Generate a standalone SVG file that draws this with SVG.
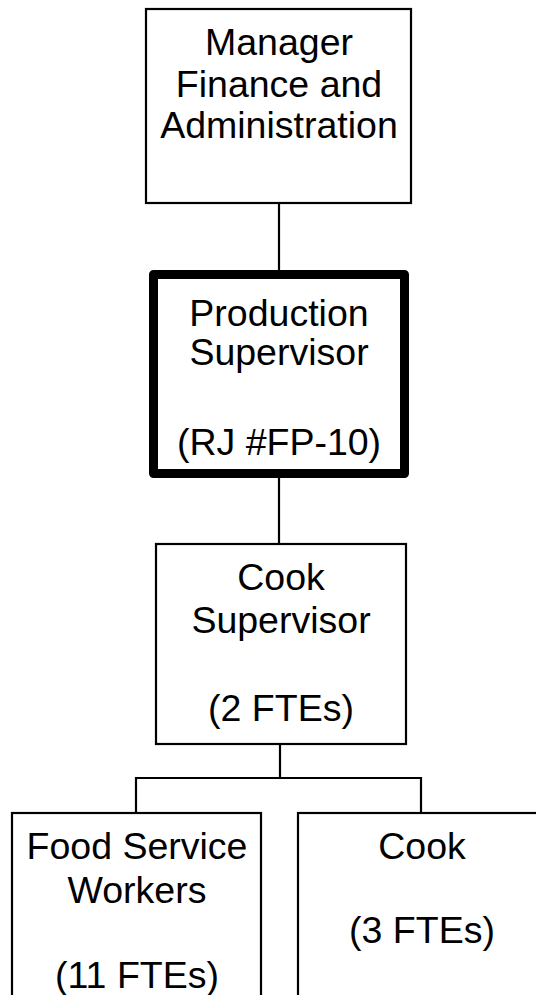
<svg xmlns="http://www.w3.org/2000/svg" width="536" height="995" viewBox="0 0 536 995">
<style>
.box{fill:#fff;stroke:#000;stroke-width:2.2}
.thick{fill:#fff;stroke:#000;stroke-width:9;stroke-linejoin:round}
.lbl{font-family:"Liberation Sans",Arial,sans-serif;font-size:37.5px;fill:#000;text-anchor:middle}
.conn{fill:none;stroke:#000;stroke-width:2.2}
</style>
<rect width="536" height="995" fill="#fff"/>
<g id="connectors">
<line class="conn" x1="279" y1="203" x2="279" y2="270"/>
<line class="conn" x1="279" y1="478" x2="279" y2="544"/>
<polyline class="conn" points="136,813 136,778 421,778 421,813"/>
<line class="conn" x1="280" y1="744" x2="280" y2="778"/>
</g>
<g id="manager">
<rect class="box" x="146" y="9" width="265" height="194"/>
<text class="lbl" x="279" y="55">Manager</text>
<text class="lbl" x="279" y="97">Finance and</text>
<text class="lbl" x="279" y="138">Administration</text>
</g>
<g id="production-supervisor">
<rect class="thick" x="153.5" y="274.5" width="251" height="199"/>
<text class="lbl" x="279" y="326">Production</text>
<text class="lbl" x="279" y="365">Supervisor</text>
<text class="lbl" x="279" y="455">(RJ #FP-10)</text>
</g>
<g id="cook-supervisor">
<rect class="box" x="156" y="544" width="250" height="200"/>
<text class="lbl" x="281" y="590">Cook</text>
<text class="lbl" x="281" y="633">Supervisor</text>
<text class="lbl" x="281" y="721">(2 FTEs)</text>
</g>
<g id="food-service-workers">
<rect class="box" x="12" y="813" width="249" height="200"/>
<text class="lbl" x="137" y="859">Food Service</text>
<text class="lbl" x="137" y="903">Workers</text>
<text class="lbl" x="137" y="988">(11 FTEs)</text>
</g>
<g id="cook">
<rect class="box" x="298" y="813" width="260" height="200"/>
<text class="lbl" x="422" y="859">Cook</text>
<text class="lbl" x="422" y="943">(3 FTEs)</text>
</g>
</svg>
